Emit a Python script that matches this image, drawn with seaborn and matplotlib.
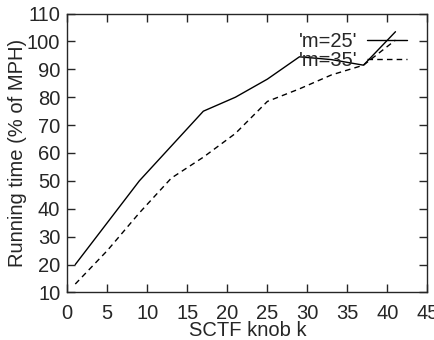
import matplotlib
matplotlib.use("Agg")
import matplotlib.pyplot as plt
import seaborn as sns
import pandas as pd

# --- Data ---
knob_k = [1, 5, 9, 13, 17, 21, 25, 29, 33, 37, 41]
m25 = [20, 35, 50, 62.5, 75, 80, 86.5, 94.5, 93.5, 91.5, 103.5]
m35 = [13, 25, 38.5, 51, 58.5, 67, 78.5, 83, 88, 91.5, 100.5]

df = pd.concat([
    pd.DataFrame({"k": knob_k, "time": m25, "series": "'m=25'"}),
    pd.DataFrame({"k": knob_k, "time": m35, "series": "'m=35'"}),
])

sns.set_style("ticks")
plt.rcParams["font.family"] = ["Liberation Sans", "DejaVu Sans"]

fig, ax = plt.subplots(figsize=(4.34, 3.4), dpi=100)
sns.lineplot(data=df, x="k", y="time", style="series", color="black",
             linewidth=1.0, dashes={"'m=25'": "", "'m=35'": (4, 3)}, ax=ax)

ax.set_xlim(0, 45)
ax.set_ylim(10, 110)
ax.set_xticks(range(0, 46, 5))
ax.set_yticks(range(10, 111, 10))
ax.tick_params(direction="in", length=6, width=1, top=True, right=True,
               labelsize=14.5, pad=5)
ax.tick_params(axis="x", pad=8)
for s in ax.spines.values():
    s.set_linewidth(1.0)
ax.set_xlabel("SCTF knob k", fontsize=14.5, labelpad=-1)
ax.set_ylabel("Running time (% of MPH)", fontsize=14.5, labelpad=0)

leg = ax.legend(loc="upper right", bbox_to_anchor=(0.97, 0.97), frameon=False,
                markerfirst=False, fontsize=14.5, handlelength=1.95,
                handletextpad=0.5, labelspacing=0.0, borderpad=0)

fig.subplots_adjust(left=0.155, right=0.985, top=0.96, bottom=0.14)
fig.savefig("out.png", dpi=100)
